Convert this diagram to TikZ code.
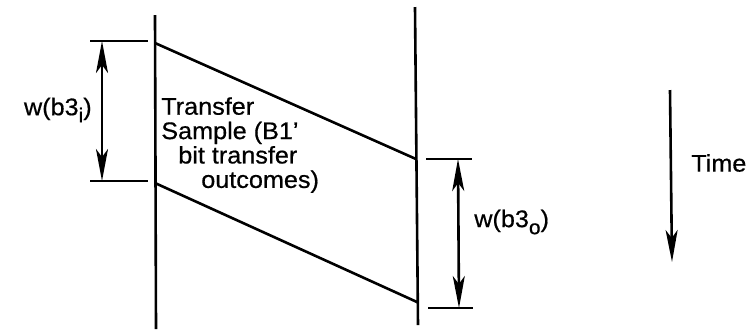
\documentclass[tikz,border=0pt]{standalone}
\usepackage{fontspec}
\setmainfont[FakeStretch=1.05, FakeBold=0.6]{Liberation Sans}
\usetikzlibrary{arrows.meta}

\newcommand{\lowsub}[1]{\raisebox{-3.5pt}{\fontsize{10}{10}\selectfont #1}}

\begin{document}
\begin{tikzpicture}[x=0.5pt, y=-0.5pt, line width=1.3pt,
    >={Stealth[length=16pt, width=6pt, inset=4pt]},
    lbl/.style={font=\fontsize{12}{12.2}\selectfont, inner sep=0pt}]
    \useasboundingbox (0,0) rectangle (756,329);

    % Time lines (sender and receiver)
    \coordinate (stop) at (155,15);
    \coordinate (sbot) at (156,329);
    \coordinate (rtop) at (415,7);
    \coordinate (rbot) at (418,325);
    \draw (stop) -- (sbot);
    \draw (rtop) -- (rbot);

    % Transfer sample band
    \coordinate (in1) at (155,43);
    \coordinate (in2) at (155,183);
    \coordinate (out1) at (416,159);
    \coordinate (out2) at (417,302);
    \draw (in1) -- (out1);
    \draw (in2) -- (out2);

    % Input width
    \coordinate (ti1) at (90,41);
    \coordinate (ti1e) at (148,41);
    \coordinate (ti2) at (90,181);
    \coordinate (ti2e) at (148,181);
    \draw (ti1) -- (ti1e);
    \draw (ti2) -- (ti2e);
    \coordinate (ai1) at (102,41);
    \coordinate (ai2) at (102,181);
    \draw[<->] (ai1) -- (ai2);
    \node[lbl, anchor=east] (wi) at (93,110) {w(b3\lowsub{i})};

    % Output width
    \coordinate (to1) at (426,159);
    \coordinate (to1e) at (472,159);
    \coordinate (to2) at (428,308);
    \coordinate (to2e) at (473,308);
    \draw (to1) -- (to1e);
    \draw (to2) -- (to2e);
    \coordinate (ao1) at (458,159);
    \coordinate (ao2) at (459,308);
    \draw[<->] (ao1) -- (ao2);
    \node[lbl, anchor=west] (wo) at (473,222) {w(b3\lowsub{o})};

    % Sample text
    \node[lbl, anchor=north west, align=left] (txt) at (160,96)
        {Transfer\\Sample (B1'\\\hspace*{8.5pt}bit transfer\\\hspace*{20pt}outcomes)};

    % Time arrow
    \coordinate (t1) at (670,90);
    \coordinate (t2) at (672,262);
    \draw[->] (t1) -- (t2);
    \node[lbl, anchor=west] (time) at (690,163) {Time};
\end{tikzpicture}
\end{document}
